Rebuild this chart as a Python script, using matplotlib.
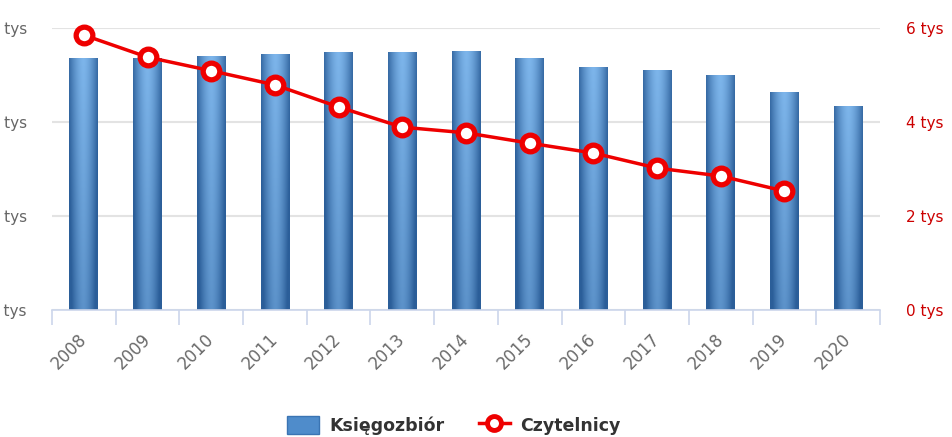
import numpy as np
import matplotlib.pyplot as plt
from matplotlib.lines import Line2D
from matplotlib.patches import Patch

years = ["2008", "2009", "2010", "2011", "2012", "2013", "2014",
         "2015", "2016", "2017", "2018", "2019", "2020"]
# Księgozbiór (left axis, thousands)
ksiegozbior = [53.6, 53.6, 54.0, 54.5, 54.9, 54.9, 55.1, 53.6, 51.7, 51.1, 50.0, 46.4, 43.4]
# Czytelnicy (right axis), no value for 2020
czytelnicy = [5850, 5380, 5090, 4790, 4320, 3890, 3770, 3550, 3340, 3020, 2850, 2530]

left_ticks = [0, 20, 40, 60]
right_ticks = [0, 2000, 4000, 6000]

fig = plt.figure(figsize=(9.52, 4.37), dpi=100)
ax = fig.add_axes([0.0546, 0.2906, 0.8698, 0.6453])
ax2 = ax.twinx()

x = np.arange(len(years))
w = 0.45

# gradient image for bars: light in the middle, darker at sides and bottom
gx = np.linspace(-1, 1, 60)
gy = np.linspace(0, 1, 100)
GX, GY = np.meshgrid(gx, gy)
t = np.clip(1 - (np.abs(GX) ** 1.6) * 0.85 - (1 - GY) * 0.4, 0, 1)
dark = np.array([0.17, 0.37, 0.60])
light = np.array([0.49, 0.71, 0.92])
grad = dark + (light - dark) * t[..., None]

bars = ax.bar(x, ksiegozbior, width=w, color="#4a86c5", zorder=2)
for b in bars:
    x0, y0 = b.get_x(), b.get_y()
    im = ax.imshow(grad, extent=[x0, x0 + b.get_width(), y0, y0 + b.get_height()],
                   origin="lower", aspect="auto", zorder=2.1, interpolation="bilinear")
    im.set_clip_path(b)

ax.set_xlim(-0.5, len(years) - 0.5)
ax.set_ylim(0, 60)
ax.set_yticks(left_ticks)
ax.set_yticklabels([f"{v} tys" for v in left_ticks])
ax.grid(axis="y", color="#e3e3e3", linewidth=1.5, zorder=0)
ax.set_axisbelow(True)

ax.set_xticks(x)
ax.set_xticklabels(years, rotation=45, ha="right", va="center", rotation_mode="anchor")
ax.set_xticks(np.arange(len(years) + 1) - 0.5, minor=True)
ax.tick_params(axis="x", which="major", length=0, pad=19, labelsize=12, labelcolor="#6a6a6a")
ax.tick_params(axis="x", which="minor", length=11, width=1.2, color="#ccd6eb", direction="out")
ax.tick_params(axis="y", length=0, pad=18, labelsize=11, labelcolor="#666666")

for side in ["top", "left", "right"]:
    ax.spines[side].set_visible(False)
    ax2.spines[side].set_visible(False)
ax.spines["bottom"].set_color("#ccd6eb")
ax.spines["bottom"].set_linewidth(1.2)
ax2.spines["bottom"].set_visible(False)

ax2.plot(x[:len(czytelnicy)], czytelnicy, color="#ee0000", linewidth=2.5,
         marker="o", markersize=12, markerfacecolor="white",
         markeredgecolor="#ee0000", markeredgewidth=3.8, zorder=3, clip_on=False)
ax2.set_ylim(0, 6000)
ax2.set_yticks(right_ticks)
ax2.set_yticklabels([f"{v // 1000} tys" for v in right_ticks])
ax2.tick_params(axis="y", length=0, pad=19, labelsize=11, labelcolor="#cc0000")

handles = [
    Patch(facecolor="#4f8ccb", edgecolor="#3a74b3"),
    Line2D([0], [0], color="#ee0000", linewidth=2.5, marker="o", markersize=10,
           markerfacecolor="white", markeredgecolor="#ee0000", markeredgewidth=3.5),
]
fig.legend(handles, ["Księgozbiór", "Czytelnicy"], loc="center",
           bbox_to_anchor=(0.477, 0.027), ncol=2, frameon=False,
           prop={"size": 12.5, "weight": "bold"}, labelcolor="#333333",
           handlelength=1.8, handleheight=1.3, columnspacing=2.0, handletextpad=0.6)

fig.savefig("out.png", dpi=100)
